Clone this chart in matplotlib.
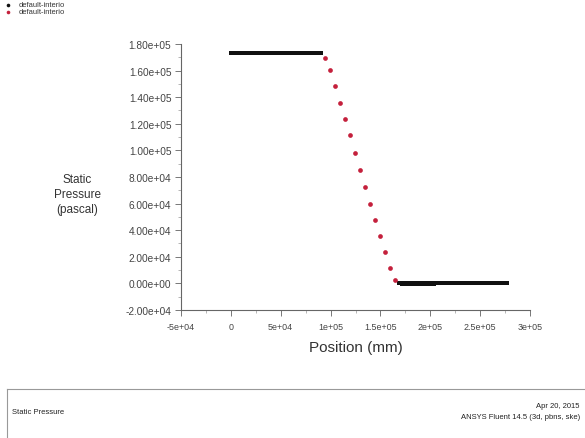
import matplotlib
matplotlib.use("Agg")
import matplotlib.pyplot as plt
from matplotlib.ticker import MultipleLocator, FixedLocator, FixedFormatter
from matplotlib.lines import Line2D

plt.rcParams['font.family'] = ['Liberation Sans', 'DejaVu Sans']

# upstream plateau (default-interior, black)
upstream_x = [0, 2000, 4000, 6000, 8000, 10000, 12000, 14000, 16000, 18000,
              20000, 22000, 24000, 26000, 28000, 30000, 32000, 34000, 36000,
              38000, 40000, 42000, 44000, 46000, 48000, 50000, 52000, 54000,
              56000, 58000, 60000, 62000, 64000, 66000, 68000, 70000, 72000,
              74000, 76000, 78000, 80000, 82000, 84000, 86000, 88000, 90000]
upstream_p = [173000] * len(upstream_x)

# pressure drop through the interior zone (default-interior, red)
drop_x = [94700, 99700, 104300, 109300, 114300, 119300, 124300, 129700,
          135000, 140000, 145000, 149700, 154700, 159700, 164700]
drop_p = [169200, 160400, 148100, 135900, 123800, 111300, 98300, 85200,
          72700, 59900, 47600, 35600, 23800, 11500, 2500]

# downstream plateau (default-interior, black)
downstream_x = [169000, 171000, 173000, 175000, 177000, 179000, 181000, 183000,
                185000, 187000, 189000, 191000, 193000, 195000, 197000, 199000,
                201000, 203000, 205000, 207000, 209000, 211000, 213000, 215000,
                217000, 219000, 221000, 223000, 225000, 227000, 229000, 231000,
                233000, 235000, 237000, 239000, 241000, 243000, 245000, 247000,
                249000, 251000, 253000, 255000, 257000, 259000, 261000, 263000,
                265000, 267000, 269000, 271000, 273000, 275000, 277000]
downstream_p = [0] * len(downstream_x)
# slightly scattered cells just past the drop
scatter_x = [172000, 176000, 180000, 184000, 188000, 192000, 196000, 200000, 204000]
scatter_p = [-600, -700, -600, -800, -700, -600, -800, -700, -600]

x_ticks = [-50000, 0, 50000, 100000, 150000, 200000, 250000, 300000]
x_labels = ['-5e+04', '0', '5e+04', '1e+05', '1.5e+05', '2e+05', '2.5e+05', '3e+05']
y_ticks = [-20000, 0, 20000, 40000, 60000, 80000, 100000, 120000, 140000, 160000, 180000]
y_labels = ['-2.00e+04', '0.00e+00', '2.00e+04', '4.00e+04', '6.00e+04', '8.00e+04',
            '1.00e+05', '1.20e+05', '1.40e+05', '1.60e+05', '1.80e+05']

fig = plt.figure(figsize=(5.85, 4.39), dpi=100)
ax = fig.add_axes([0.3094, 0.2916, 0.5966, 0.6059])

black = '#111111'
red = '#c4203c'
ax.plot(upstream_x, upstream_p, 's', color=black, ms=2.3, mew=0)
ax.plot(downstream_x, downstream_p, 's', color=black, ms=2.3, mew=0)
ax.plot(scatter_x, scatter_p, 's', color=black, ms=2.3, mew=0)
ax.plot(drop_x, drop_p, 'o', color=red, ms=3.4, mew=0)

ax.set_xlim(-50000, 300000)
ax.set_ylim(-20000, 180000)

ax.xaxis.set_major_locator(FixedLocator(x_ticks))
ax.xaxis.set_major_formatter(FixedFormatter(x_labels))
ax.xaxis.set_minor_locator(MultipleLocator(25000))
ax.yaxis.set_major_locator(FixedLocator(y_ticks))
ax.yaxis.set_major_formatter(FixedFormatter(y_labels))
ax.yaxis.set_minor_locator(MultipleLocator(10000))

for side in ('top', 'right'):
    ax.spines[side].set_visible(False)
for side in ('left', 'bottom'):
    ax.spines[side].set_color('#666666')
    ax.spines[side].set_linewidth(0.8)

ax.tick_params(which='major', direction='out', length=4, width=0.7,
               color='#777777', labelcolor='#444444', pad=3)
ax.tick_params(axis='y', which='major', labelsize=7.3)
ax.tick_params(axis='x', which='major', labelsize=6.4, pad=5)
ax.tick_params(which='minor', direction='out', length=2, width=0.6, color='#aaaaaa')

ax.set_xlabel('Position (mm)', fontsize=11, color='#333333', labelpad=6)
fig.text(0.132, 0.556, 'Static\nPressure\n(pascal)', fontsize=8.5, color='#333333',
         ha='center', va='center', linespacing=1.3)

# legend in the top-left corner
fig.add_artist(Line2D([0.0137], [1 - 5.5 / 439], marker='o', color=black, ms=2.6,
                      mew=0, transform=fig.transFigure))
fig.add_artist(Line2D([0.0137], [1 - 13 / 439], marker='o', color=red, ms=2.6,
                      mew=0, transform=fig.transFigure))
fig.text(0.031, 1 - 5.5 / 439, 'default-interio', fontsize=5.4, color='#333333', va='center')
fig.text(0.031, 1 - 12.5 / 439, 'default-interio', fontsize=5.4, color='#333333', va='center')

# footer box
fig.add_artist(Line2D([7 / 585, 1.0], [1 - 390 / 439] * 2, color='#999999', lw=0.8,
                      transform=fig.transFigure))
fig.add_artist(Line2D([7 / 585] * 2, [1 - 390 / 439, 0], color='#999999', lw=0.8,
                      transform=fig.transFigure))
fig.text(12 / 585, 1 - 413 / 439, 'Static Pressure', fontsize=5.5, color='#222222', va='center')
fig.text(580 / 585, 1 - 407 / 439, 'Apr 20, 2015', fontsize=5.5, color='#222222',
         va='center', ha='right')
fig.text(580 / 585, 1 - 418 / 439, 'ANSYS Fluent 14.5 (3d, pbns, ske)', fontsize=5.5,
         color='#222222', va='center', ha='right')

fig.savefig('out.png', dpi=100)
